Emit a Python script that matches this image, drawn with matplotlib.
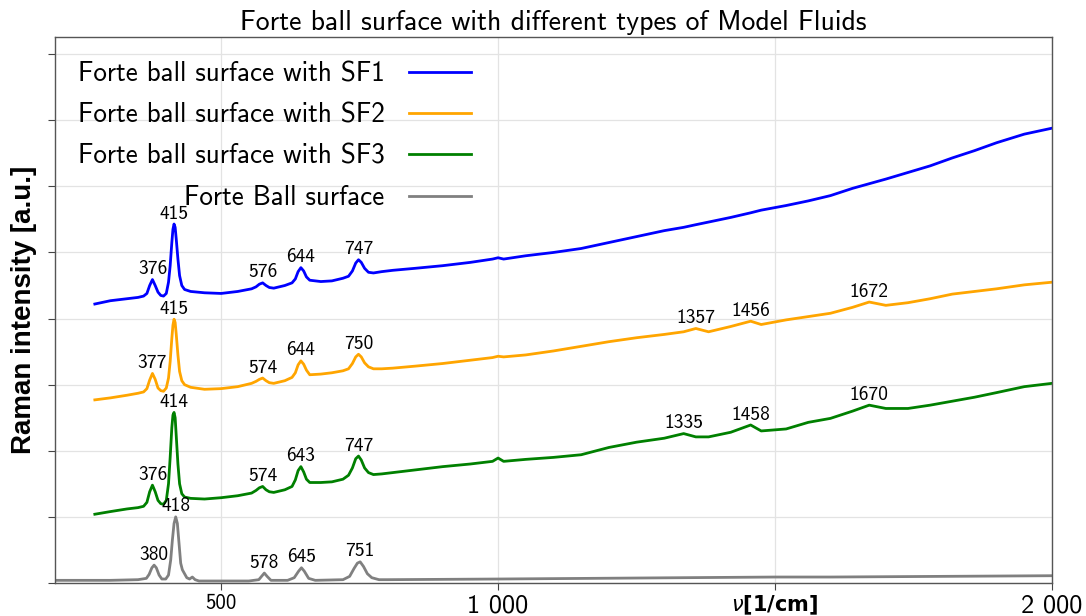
import numpy as np
import matplotlib.pyplot as plt

# Raman spectra (arbitrary intensity units, 1 unit = 1 y tick)
x_sf = [272, 300, 330, 350, 360, 366, 371, 376, 381, 386, 391, 396, 401, 405, 408, 411, 413,
        415, 417, 419, 422, 425, 429, 434, 445, 470, 500, 530, 555, 563, 569, 575, 581, 587,
        595, 615, 628, 634, 639, 644, 649, 654, 660, 680, 700, 720, 730, 737, 743, 748, 753,
        759, 766, 775, 790, 810, 850, 900, 950, 990, 1000, 1010, 1050, 1100, 1150, 1200,
        1250, 1300, 1335, 1357, 1380, 1420, 1456, 1475, 1520, 1560, 1600, 1640, 1670, 1700,
        1740, 1780, 1820, 1860, 1900, 1950, 2000]

sf1 = [4.22, 4.27, 4.30, 4.32, 4.34, 4.38, 4.50, 4.59, 4.50, 4.40, 4.35, 4.34, 4.38, 4.55, 4.80, 5.15, 5.35,
       5.43, 5.38, 5.20, 4.90, 4.65, 4.50, 4.44, 4.41, 4.39, 4.38, 4.41, 4.45, 4.48, 4.52, 4.54, 4.50, 4.47,
       4.46, 4.50, 4.54, 4.60, 4.71, 4.77, 4.72, 4.63, 4.58, 4.56, 4.57, 4.61, 4.64, 4.72, 4.84, 4.89, 4.85,
       4.76, 4.70, 4.69, 4.71, 4.73, 4.76, 4.80, 4.85, 4.90, 4.92, 4.90, 4.95, 5.00, 5.06, 5.15,
       5.24, 5.33, 5.38, 5.42, 5.46, 5.53, 5.60, 5.64, 5.71, 5.78, 5.86, 5.97, 6.04, 6.11,
       6.21, 6.31, 6.43, 6.54, 6.66, 6.79, 6.88]

sf2 = [2.77, 2.80, 2.84, 2.87, 2.89, 2.94, 3.07, 3.17, 3.08, 2.95, 2.91, 2.90, 2.95, 3.10, 3.35, 3.70, 3.90,
       3.99, 3.94, 3.76, 3.45, 3.20, 3.06, 3.00, 2.96, 2.93, 2.94, 2.97, 3.02, 3.05, 3.08, 3.10, 3.06, 3.03,
       3.02, 3.06, 3.11, 3.18, 3.30, 3.36, 3.31, 3.22, 3.15, 3.16, 3.18, 3.21, 3.24, 3.32, 3.42, 3.46, 3.42,
       3.33, 3.27, 3.24, 3.24, 3.25, 3.28, 3.32, 3.37, 3.41, 3.43, 3.42, 3.45, 3.51, 3.58, 3.65,
       3.71, 3.76, 3.80, 3.85, 3.80, 3.88, 3.96, 3.91, 3.98, 4.03, 4.08, 4.17, 4.25, 4.20,
       4.24, 4.30, 4.37, 4.41, 4.45, 4.51, 4.55]

sf3 = [1.04, 1.08, 1.12, 1.14, 1.16, 1.22, 1.38, 1.48, 1.38, 1.25, 1.20, 1.19, 1.25, 1.50, 1.90, 2.35, 2.54,
       2.58, 2.50, 2.22, 1.80, 1.50, 1.35, 1.30, 1.28, 1.27, 1.29, 1.32, 1.36, 1.40, 1.44, 1.46, 1.41, 1.38,
       1.37, 1.41, 1.46, 1.56, 1.70, 1.76, 1.68, 1.57, 1.52, 1.52, 1.53, 1.57, 1.63, 1.74, 1.88, 1.92, 1.86,
       1.74, 1.67, 1.64, 1.65, 1.67, 1.71, 1.76, 1.80, 1.84, 1.89, 1.84, 1.87, 1.90, 1.94, 2.05,
       2.13, 2.19, 2.26, 2.21, 2.21, 2.28, 2.39, 2.30, 2.33, 2.43, 2.49, 2.60, 2.69, 2.64,
       2.64, 2.69, 2.75, 2.81, 2.88, 2.97, 3.02]

x_ball = [200, 300, 350, 365, 370, 375, 379, 383, 388, 393, 400, 405, 409, 412, 415, 418, 421, 424,
          427, 430, 434, 438, 443, 448, 453, 460, 550, 568, 573, 578, 583, 590, 620, 632, 640, 645,
          650, 658, 670, 720, 732, 740, 746, 751, 757, 764, 772, 785, 800, 1000, 1500, 1600, 2000]
ball = [0.04, 0.04, 0.05, 0.07, 0.13, 0.23, 0.27, 0.23, 0.12, 0.06, 0.06, 0.12, 0.35, 0.65, 0.90, 1.00,
        0.90, 0.60, 0.30, 0.20, 0.14, 0.08, 0.06, 0.09, 0.05, 0.03, 0.03, 0.05, 0.10, 0.15, 0.10, 0.04,
        0.04, 0.08, 0.18, 0.23, 0.18, 0.07, 0.04, 0.05, 0.10, 0.22, 0.30, 0.32, 0.25, 0.14, 0.08, 0.05,
        0.05, 0.06, 0.09, 0.09, 0.11]

# peak labels: (position where label sits, text)
peaks_sf1 = [(376, '376'), (415, '415'), (575, '576'), (644, '644'), (748, '747')]
peaks_sf2 = [(376, '377'), (415, '415'), (575, '574'), (644, '644'), (748, '750'),
             (1357, '1357'), (1456, '1456'), (1670, '1672')]
peaks_sf3 = [(376, '376'), (415, '414'), (575, '574'), (644, '643'), (748, '747'),
             (1335, '1335'), (1456, '1458'), (1670, '1670')]
peaks_ball = [(379, '380'), (418, '418'), (578, '578'), (645, '645'), (751, '751')]

series = [
    ('Forte ball surface with SF1', x_sf, sf1, 'blue', peaks_sf1),
    ('Forte ball surface with SF2', x_sf, sf2, 'orange', peaks_sf2),
    ('Forte ball surface with SF3', x_sf, sf3, 'green', peaks_sf3),
    ('Forte Ball surface', x_ball, ball, 'gray', peaks_ball),
]

plt.rcParams['font.family'] = ['cmss10', 'DejaVu Sans']
plt.rcParams['mathtext.fontset'] = 'dejavusans'
plt.rcParams['axes.unicode_minus'] = False

fig = plt.figure(figsize=(10.86, 6.16), dpi=100)
ax = fig.add_axes([0.0506, 0.0536, 0.9181, 0.8864])

for label, xs, ys, color, peaks in series:
    ax.plot(xs, ys, color=color, linewidth=2, label=label)
    for px, txt in peaks:
        py = np.interp(px, xs, ys)
        ax.annotate(txt, (px, py), xytext=(0, 1), textcoords='offset points',
                    ha='center', va='bottom', fontsize=14)

ax.set_xlim(200, 2000)
ax.set_ylim(0, 8.26)
ax.set_yticks(range(9))
ax.set_yticklabels([])
ax.set_xticks([500, 1000, 1500, 2000])
ax.set_xticklabels(['500', '1 000', r'$\nu$[1/cm]', '2 000'])
labs = ax.get_xticklabels()
labs[0].set_fontsize(15)
labs[1].set_fontsize(19)
labs[3].set_fontsize(19)
labs[2].set_fontsize(15)
labs[2].set_fontweight('bold')
labs[2].set_fontfamily('DejaVu Sans')
ax.tick_params(axis='both', length=5, color='#444444', pad=3)
ax.grid(True, color='#e3e3e3', linewidth=0.9)
ax.set_axisbelow(True)
for sp in ax.spines.values():
    sp.set_color('#555555')
    sp.set_linewidth(1.0)

ax.set_ylabel('Raman intensity [a.u.]', fontsize=20, fontweight='bold',
              fontfamily='Liberation Sans', labelpad=5)
ax.set_title('Forte ball surface with different types of Model Fluids', fontsize=20, pad=5)

ax.legend(loc='upper left', bbox_to_anchor=(0.012, 0.975), frameon=False, markerfirst=False,
          fontsize=19.5, handlelength=2.3, labelspacing=0.6, borderaxespad=0, handletextpad=0.9)

fig.savefig('out.png', dpi=100)
